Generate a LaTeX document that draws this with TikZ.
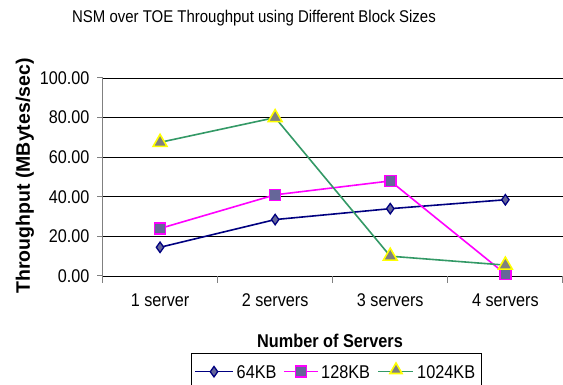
\documentclass[tikz,border=0pt]{standalone}
\usepackage{fontspec}
\setmainfont[FakeStretch=0.88]{Liberation Sans}
\newfontfamily\uprightsans{Liberation Sans}
\usetikzlibrary{shapes.geometric}

\definecolor{seriesA}{HTML}{000080}
\definecolor{seriesB}{HTML}{FF00FF}
\definecolor{seriesC}{HTML}{339966}
\definecolor{markfill}{HTML}{666699}
\definecolor{trifill}{HTML}{808080}
\definecolor{tririm}{HTML}{FFFF00}
\definecolor{axisgrey}{HTML}{808080}

\tikzset{
  gridline/.style={black, line width=0.9pt},
  axisline/.style={axisgrey, line width=1pt},
  ticklabel/.style={font=\fontsize{18.4}{18.4}\selectfont, inner sep=0pt},
  axistitle/.style={font=\fontsize{18.5}{18.5}\selectfont\bfseries, inner sep=0pt},
  lineA/.style={seriesA, line width=1.6pt},
  lineB/.style={seriesB, line width=1.6pt},
  lineC/.style={seriesC, line width=1.6pt},
  markA/.style={diamond, draw=seriesA, fill=markfill, line width=1.3pt,
                minimum width=8pt, minimum height=11pt, inner sep=0pt},
  markB/.style={rectangle, draw=seriesB, fill=markfill, line width=1.6pt,
                minimum size=11pt, inner sep=0pt},
  markC/.style={regular polygon, regular polygon sides=3, draw=tririm,
                fill=trifill, line width=1.6pt, minimum size=16pt, inner sep=0pt},
  legendtext/.style={font=\fontsize{18.5}{18.5}\selectfont, inner sep=0pt, anchor=west},
}

\begin{document}
\begin{tikzpicture}[x=1pt, y=1pt]
\useasboundingbox (0,0) rectangle (563,385);
\fill[white] (0,0) rectangle (563,385);

% chart title
\node[font=\fontsize{17}{17}\selectfont, inner sep=0pt] (title) at (254,367)
  {NSM over TOE Throughput using Different Block Sizes};

% plot area: one unit along x per category, one along y per MByte/sec
\begin{scope}[shift={(102.5,109)}, x=115.1pt, y=1.98pt]
  % horizontal grid
  \foreach \v in {0,20,...,100}
    \draw[gridline] (0,\v) -- (4,\v);
  % value axis with ticks and labels
  \draw[axisline] (0,0) -- (0,100);
  \foreach \v/\t in {0/0.00, 20/20.00, 40/40.00, 60/60.00, 80/80.00, 100/100.00} {
    \draw[axisline] (0,\v) -- ++(-6pt,0);
    \node[ticklabel, anchor=east] (ytick\v) at ([xshift=-13pt]0,\v) {\t};
  }
  % category axis ticks and labels
  \foreach \i in {0,...,4}
    \draw[axisline] (\i,0) -- ++(0,-7pt);
  \foreach \i/\t in {1/1 server, 2/2 servers, 3/3 servers, 4/4 servers}
    \node[ticklabel] (xtick\i) at ([yshift=-24pt]\i-0.5,0) {\t};

  % data points
  \foreach \i/\v in {1/14.5, 2/28.5, 3/34, 4/38.5}
    \coordinate (a\i) at (\i-0.5,\v);
  \foreach \i/\v in {1/24, 2/41, 3/48, 4/1}
    \coordinate (b\i) at (\i-0.5,\v);
  \foreach \i/\v in {1/67.5, 2/80, 3/10, 4/5.5}
    \coordinate (c\i) at (\i-0.5,\v);

  % 64KB series
  \draw[lineA] (a1) -- (a2) -- (a3) -- (a4);
  \foreach \i in {1,...,4} \node[markA] (ma\i) at (a\i) {};
  % 128KB series
  \draw[lineB] (b1) -- (b2) -- (b3) -- (b4);
  \foreach \i in {1,...,4} \node[markB] (mb\i) at (b\i) {};
  % 1024KB series
  \draw[lineC] (c1) -- (c2) -- (c3) -- (c4);
  \foreach \i in {1,...,4} \node[markC] (mc\i) at (c\i) {};
\end{scope}

% axis titles
\node[axistitle] (xtitle) at (330,44) {Number of Servers};
\node[font=\fontsize{19.5}{19.5}\uprightsans\bfseries, inner sep=0pt, rotate=90]
  (ytitle) at (25,209) {Throughput (MBytes/sec)};

% legend
\draw[black, line width=0.9pt] (191.7,-5) rectangle (481.7,31.7);
\coordinate (la1) at (195,13.3);  \coordinate (la2) at (233,13.3);
\coordinate (lb1) at (284,13.3);  \coordinate (lb2) at (318,13.3);
\coordinate (lc1) at (378,13.3);  \coordinate (lc2) at (413,13.3);
\draw[lineA] (la1) -- (la2);
\node[markA] (lma) at (214,13.3) {};
\node[legendtext] (lta) at (236.5,13.3) {64KB};
\draw[lineB] (lb1) -- (lb2);
\node[markB] (lmb) at (301,13.3) {};
\node[legendtext] (ltb) at (321,13.3) {128KB};
\draw[lineC] (lc1) -- (lc2);
\node[markC, minimum size=14pt] (lmc) at (396,15) {};
\node[legendtext] (ltc) at (417,13.3) {1024KB};
\end{tikzpicture}
\end{document}
